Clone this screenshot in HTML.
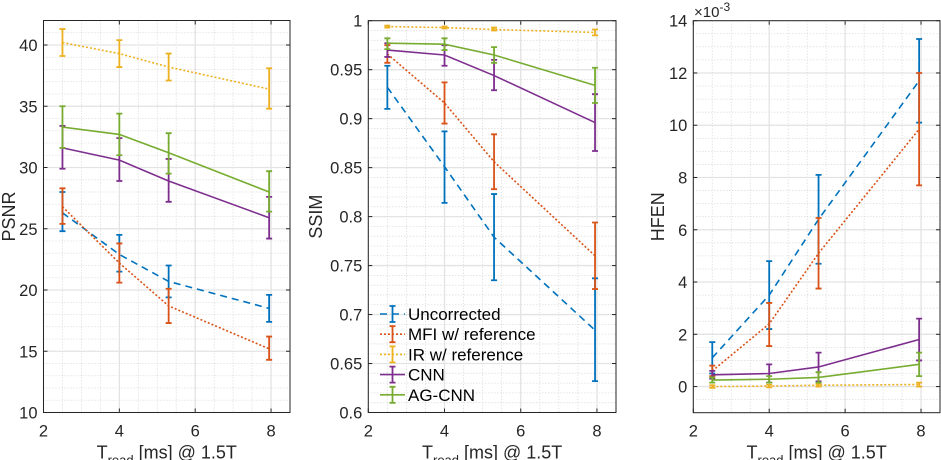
<!DOCTYPE html>
<html><head><meta charset="utf-8">
<style>
html,body{margin:0;padding:0;background:#fff;}
svg{display:block;font-family:"Liberation Sans",sans-serif;}
</style></head>
<body>
<svg id="fig" width="941" height="460" viewBox="0 0 941 460"></svg>
<script>
const xVals = [2.5, 4, 5.3, 7.95];
const seriesNames = ["Uncorrected","MFI w/ reference","IR w/ reference","CNN","AG-CNN"];
// PSNR
const psnrUnc = [26.3, 22.9, 20.7, 18.5];
const psnrUncLo = [24.8, 21.5, 19.4, 17.4];
const psnrUncHi = [28.0, 24.5, 22.0, 19.6];
const psnrMfi = [26.8, 22.2, 18.7, 15.2];
const psnrMfiLo = [25.4, 20.6, 17.3, 14.3];
const psnrMfiHi = [28.3, 23.8, 20.1, 16.2];
const psnrIr = [40.2, 39.3, 38.2, 36.4];
const psnrIrLo = [39.1, 38.2, 37.1, 34.8];
const psnrIrHi = [41.3, 40.4, 39.3, 38.1];
const psnrCnn = [31.6, 30.6, 28.9, 25.9];
const psnrCnnLo = [29.9, 28.9, 27.2, 24.2];
const psnrCnnHi = [33.4, 32.4, 30.7, 27.6];
const psnrAg = [33.3, 32.7, 31.2, 28.0];
const psnrAgLo = [31.6, 31.0, 29.5, 26.4];
const psnrAgHi = [35.0, 34.4, 32.8, 29.7];
// SSIM
const ssimUnc = [0.932, 0.851, 0.779, 0.684];
const ssimUncLo = [0.910, 0.814, 0.735, 0.632];
const ssimUncHi = [0.954, 0.887, 0.823, 0.737];
const ssimMfi = [0.966, 0.916, 0.856, 0.760];
const ssimMfiLo = [0.957, 0.895, 0.828, 0.726];
const ssimMfiHi = [0.975, 0.937, 0.884, 0.794];
const ssimIr = [0.994, 0.993, 0.991, 0.988];
const ssimIrLo = [0.993, 0.992, 0.990, 0.985];
const ssimIrHi = [0.995, 0.994, 0.993, 0.991];
const ssimCnn = [0.970, 0.965, 0.944, 0.896];
const ssimCnnLo = [0.963, 0.954, 0.929, 0.867];
const ssimCnnHi = [0.977, 0.975, 0.960, 0.925];
const ssimAg = [0.977, 0.976, 0.965, 0.934];
const ssimAgLo = [0.971, 0.970, 0.957, 0.916];
const ssimAgHi = [0.982, 0.982, 0.973, 0.952];
// HFEN (x1e-3)
const hfenUnc = [1.1, 3.5, 6.4, 11.7];
const hfenUncLo = [0.5, 2.2, 4.7, 10.1];
const hfenUncHi = [1.7, 4.8, 8.1, 13.3];
const hfenMfi = [0.6, 2.4, 5.1, 9.85];
const hfenMfiLo = [0.4, 1.55, 3.75, 7.7];
const hfenMfiHi = [0.8, 3.2, 6.45, 12.0];
const hfenIr = [0.0, 0.02, 0.05, 0.08];
const hfenIrLo = [-0.05, -0.03, 0.0, 0.0];
const hfenIrHi = [0.05, 0.07, 0.1, 0.15];
const hfenCnn = [0.45, 0.5, 0.75, 1.8];
const hfenCnnLo = [0.3, 0.15, 0.2, 1.0];
const hfenCnnHi = [0.6, 0.85, 1.3, 2.6];
const hfenAg = [0.25, 0.28, 0.35, 0.85];
const hfenAgLo = [0.15, 0.15, 0.15, 0.4];
const hfenAgHi = [0.35, 0.4, 0.55, 1.3];
const xTicks = [2, 4, 6, 8];
const psnrTicks = [10, 15, 20, 25, 30, 35, 40];
const ssimTicks = [0.6, 0.65, 0.7, 0.75, 0.8, 0.85, 0.9, 0.95, 1];
const hfenTicks = [0, 2, 4, 6, 8, 10, 12, 14];

const colors = ["#0072BD","#D95319","#EDB120","#7E2F8E","#77AC30"];
const dashes = ["7,5","2,2","2,2","",""];
const NS = "http://www.w3.org/2000/svg";
const svg = document.getElementById("fig");
function mk(tag, attrs, parent){
  const e = document.createElementNS(NS, tag);
  for (const k in attrs) e.setAttribute(k, attrs[k]);
  (parent||svg).appendChild(e);
  return e;
}

function panel(opts){
  const {L,R,T,B,ymin,ymax,yticks,minorStep,fmt,ylabel,name,series} = opts;
  const xmin=2, xmax=8.5;
  const sx = v => L + (v-xmin)/(xmax-xmin)*(R-L);
  const sy = v => B - (v-ymin)/(ymax-ymin)*(B-T);
  const g = mk("g",{});
  
  
  for (let v=xmin; v<=xmax+1e-9; v+=0.5){
    const l = mk("line",{x1:sx(v),x2:sx(v),y1:T,y2:B,stroke:"#cfcfcf","stroke-width":0.8,"stroke-dasharray":"1,2"},g);
    
    
  }
  for (let v=ymin; v<=ymax+1e-9; v+=minorStep){
    const l = mk("line",{x1:L,x2:R,y1:sy(v),y2:sy(v),stroke:"#cfcfcf","stroke-width":0.8,"stroke-dasharray":"1,2"},g);
    
    
  }
  xTicks.forEach(v=>{
    const l = mk("line",{x1:sx(v),x2:sx(v),y1:T,y2:B,stroke:"#e3e3e3","stroke-width":1.3},g);
    
    
    const t = mk("text",{x:sx(v),y:B+24,"text-anchor":"middle","font-size":16.5,fill:"#262626"},g);
    t.textContent = v;
    
    
    mk("line",{x1:sx(v),x2:sx(v),y1:B,y2:B-4,stroke:"#262626"},g);
    mk("line",{x1:sx(v),x2:sx(v),y1:T,y2:T+4,stroke:"#262626"},g);
  });
  yticks.forEach(v=>{
    const l = mk("line",{x1:L,x2:R,y1:sy(v),y2:sy(v),stroke:"#e3e3e3","stroke-width":1.3},g);
    
    
    const t = mk("text",{x:L-6,y:sy(v)+6,"text-anchor":"end","font-size":16.5,fill:"#262626"},g);
    t.textContent = fmt(v);
    
    
    mk("line",{x1:L,x2:L+4,y1:sy(v),y2:sy(v),stroke:"#262626"},g);
    mk("line",{x1:R,x2:R-4,y1:sy(v),y2:sy(v),stroke:"#262626"},g);
  });
  const box = mk("rect",{x:L,y:T,width:R-L,height:B-T,fill:"none",stroke:"#262626","stroke-width":1},g);
  
  
  series.forEach((s,i)=>{
    const sg = mk("g",{},g);
    
    
    const pts = xVals.map((x,j)=>sx(x)+","+sy(s[0][j])).join(" ");
    const pl = mk("polyline",{points:pts,fill:"none",stroke:colors[i],"stroke-width":1.6,"stroke-dasharray":dashes[i]},sg);
    
    
    xVals.forEach((x,j)=>{
      const X=sx(x), y1=sy(s[1][j]), y2=sy(s[2][j]);
      const e = mk("path",{d:`M${X},${y1}V${y2}M${X-3},${y1}H${X+3}M${X-3},${y2}H${X+3}`,stroke:colors[i],"stroke-width":1.8,fill:"none"},sg);
      
      
    });
  });
  const xl = mk("text",{x:(L+R)/2,y:B+46,"text-anchor":"middle","font-size":18,fill:"#262626"},g);
  xl.innerHTML = 'T<tspan font-size="13" dy="6">read</tspan><tspan dy="-6"> [ms] @ 1.5T</tspan>';
  
  
  const yl = mk("text",{x:0,y:0,"text-anchor":"middle","font-size":18,fill:"#262626",transform:`translate(${opts.ylx},${(T+B)/2}) rotate(-90)`},g);
  yl.textContent = ylabel;
  
  
  return {sx,sy,g};
}

panel({L:43.5,R:290,T:20.5,B:412.5,ymin:10,ymax:42,yticks:psnrTicks,minorStep:1,fmt:v=>v,ylabel:"PSNR",name:"psnr",ylx:15,
  series:[[psnrUnc,psnrUncLo,psnrUncHi],[psnrMfi,psnrMfiLo,psnrMfiHi],[psnrIr,psnrIrLo,psnrIrHi],[psnrCnn,psnrCnnLo,psnrCnnHi],[psnrAg,psnrAgLo,psnrAgHi]]});
panel({L:368.3,R:616,T:20.7,B:412.5,ymin:0.6,ymax:1,yticks:ssimTicks,minorStep:0.01,fmt:v=>String(v),ylabel:"SSIM",name:"ssim",ylx:322,
  series:[[ssimUnc,ssimUncLo,ssimUncHi],[ssimMfi,ssimMfiLo,ssimMfiHi],[ssimIr,ssimIrLo,ssimIrHi],[ssimCnn,ssimCnnLo,ssimCnnHi],[ssimAg,ssimAgLo,ssimAgHi]]});
panel({L:693.3,R:940,T:20.7,B:412.7,ymin:-1,ymax:14,yticks:hfenTicks,minorStep:0.5,fmt:v=>v,ylabel:"HFEN",name:"hfen",ylx:664,
  series:[[hfenUnc,hfenUncLo,hfenUncHi],[hfenMfi,hfenMfiLo,hfenMfiHi],[hfenIr,hfenIrLo,hfenIrHi],[hfenCnn,hfenCnnLo,hfenCnnHi],[hfenAg,hfenAgLo,hfenAgHi]]});
const ex = mk("text",{x:694,y:17,"font-size":15,fill:"#262626"});
ex.innerHTML = '×10<tspan font-size="12" dy="-6">-3</tspan>';



const lg = mk("g",{});


seriesNames.forEach((n,i)=>{
  const y = 314 + i*20.2;
  const e = mk("g",{},lg);
  
  
  mk("line",{x1:380,x2:405,y1:y,y2:y,stroke:colors[i],"stroke-width":1.6,"stroke-dasharray":dashes[i]},e);
  mk("path",{d:`M392.5,${y-8}V${y+8}M389.5,${y-8}H395.5M389.5,${y+8}H395.5`,stroke:colors[i],"stroke-width":1.8,fill:"none"},e);
  const t = mk("text",{x:408,y:y+6,"font-size":17,fill:"#000"},e);
  t.textContent = n;
});
</script>
</body></html>
